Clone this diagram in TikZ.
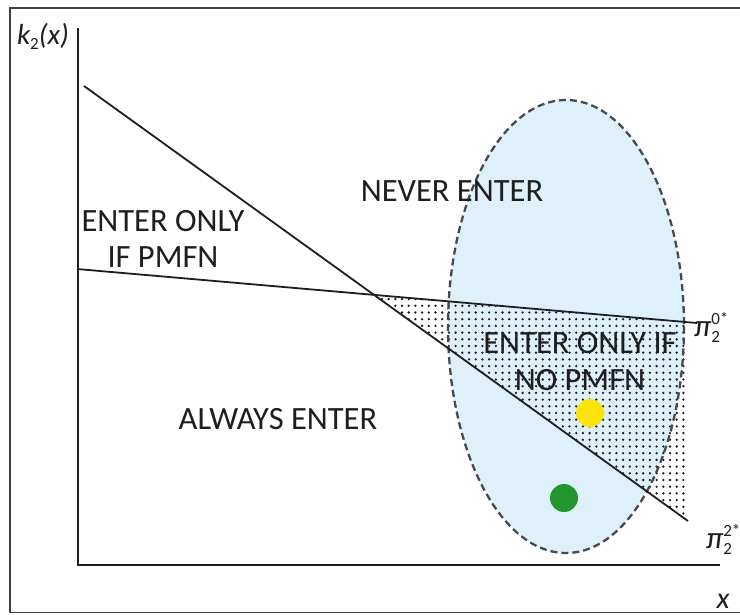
\documentclass[tikz,border=0pt]{standalone}
\usepackage{fontspec}
\setmainfont{Carlito}
\usetikzlibrary{patterns.meta}
\definecolor{ellfill}{RGB}{222,241,251}
\definecolor{ellline}{RGB}{70,74,80}
\definecolor{dotyellow}{RGB}{250,228,10}
\definecolor{dotgreen}{RGB}{34,150,44}
\definecolor{ink}{RGB}{30,30,30}
\newcommand{\smallfs}{\fontsize{17}{17}\selectfont\upshape}
\newcommand{\pilabel}[1]{\itshape π\rlap{\raisebox{-0.42ex}{\smallfs 2}}\raisebox{0.75ex}{\smallfs #1}}
\begin{document}
\begin{tikzpicture}[x=1pt,y=-1pt,
  lbl/.style={font=\fontsize{32.5}{36}\selectfont, align=center, text=ink, inner sep=0pt},
  axisline/.style={line width=1.8pt, draw=ink},
  curve/.style={line width=1.8pt, draw=ink},
  frameline/.style={line width=1.3pt, draw=black!75},
  ballpt/.style={circle, minimum size=28pt, inner sep=0pt},
  axlabel/.style={inner sep=0pt, text=ink}]
\useasboundingbox (0,0) rectangle (740,614);
% frame
\draw[frameline] (745,8) -- (10,8) -- (10,612.5) -- (745,612.5);
% coordinates
\coordinate (O) at (78,565);
\coordinate (Ytop) at (78,28);
\coordinate (Xend) at (720,565);
\coordinate (S1) at (84,86);
\coordinate (S2) at (688,521);
\coordinate (P1) at (77,269);
\coordinate (P2) at (697,323);
\coordinate (I) at (intersection of S1--S2 and P1--P2);
\coordinate (R) at (intersection of P1--P2 and 688,0--688,600);
% ellipse fill
\fill[ellfill] (566,326.5) ellipse [x radius=118, y radius=226.5];
% dotted region
\fill[pattern={Dots[distance=6.7pt, radius=1.3pt]}, pattern color=ink] (I) -- (R) -- (S2) -- cycle;
% ellipse border
\draw[ellline, line width=2.3pt, dash pattern=on 7pt off 4pt] (566,326.5) ellipse [x radius=118, y radius=226.5];
% lines
\draw[curve] (S1) -- (S2);
\draw[curve] (P1) -- (P2);
% axes
\draw[axisline] (Ytop) -- (O) -- (Xend);
% balls
\node[ballpt, fill=dotyellow] (yel) at (590,413) {};
\node[ballpt, fill=dotgreen] (grn) at (564,498) {};
% region labels
\node[lbl] (never) at (452,191) {NEVER ENTER};
\node[lbl] (pmfn) at (163,239) {ENTER ONLY\\IF PMFN};
\node[lbl, font=\fontsize{32.5}{37}\selectfont] (nopmfn) at (580,361.5) {ENTER ONLY IF\\NO PMFN};
\node[lbl] (always) at (278,419) {ALWAYS ENTER};
% axis labels
\node[axlabel, font=\fontsize{29}{30}\selectfont\itshape] (klab) at (43,36) {k\raisebox{-0.35ex}{\smallfs 2}(x)};
\node[axlabel, font=\fontsize{30}{30}\selectfont\itshape, anchor=base] (xlab) at (723,608) {x};
\node[axlabel, anchor=base west, font=\fontsize{31}{31}\selectfont] (pi0) at (694,336) {\pilabel{0*}};
\node[axlabel, anchor=base west, font=\fontsize{31}{31}\selectfont] (pi2) at (706,548) {\pilabel{2*}};
\end{tikzpicture}
\end{document}
